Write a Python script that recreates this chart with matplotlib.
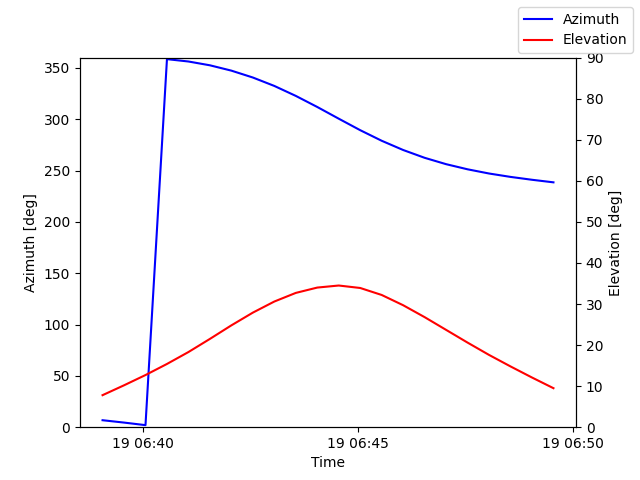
import numpy as np
import matplotlib
matplotlib.use("Agg")
import matplotlib.pyplot as plt

# pass samples every 30 s
start = np.datetime64("2021-03-19T06:39:03")
n = 22
times = start + np.arange(n) * np.timedelta64(30, "s")

azimuth = [6.8, 4.5, 2.0, 358.5, 356.2, 352.5, 347.3, 340.6, 332.4, 322.7,
           311.9, 300.5, 289.3, 279.0, 270.0, 262.4, 256.2, 251.2, 247.1,
           243.8, 241.0, 238.5]
elevation = [7.8, 10.2, 12.7, 15.4, 18.3, 21.5, 24.8, 27.9, 30.6, 32.7,
             34.0, 34.5, 33.9, 32.2, 29.7, 26.8, 23.7, 20.6, 17.6, 14.8,
             12.1, 9.5]

fig, ax1 = plt.subplots(figsize=(6.4, 4.8), dpi=100)
ax2 = ax1.twinx()

ax1.plot(times, azimuth, color="blue", label="Azimuth")
ax2.plot(times, elevation, color="red", label="Elevation")

ax1.set_ylim(0, 360)
ax2.set_ylim(0, 90)
ax1.set_xlabel("Time")
ax1.set_ylabel("Azimuth [deg]")
ax2.set_ylabel("Elevation [deg]")

fig.legend()
fig.savefig("out.png")
